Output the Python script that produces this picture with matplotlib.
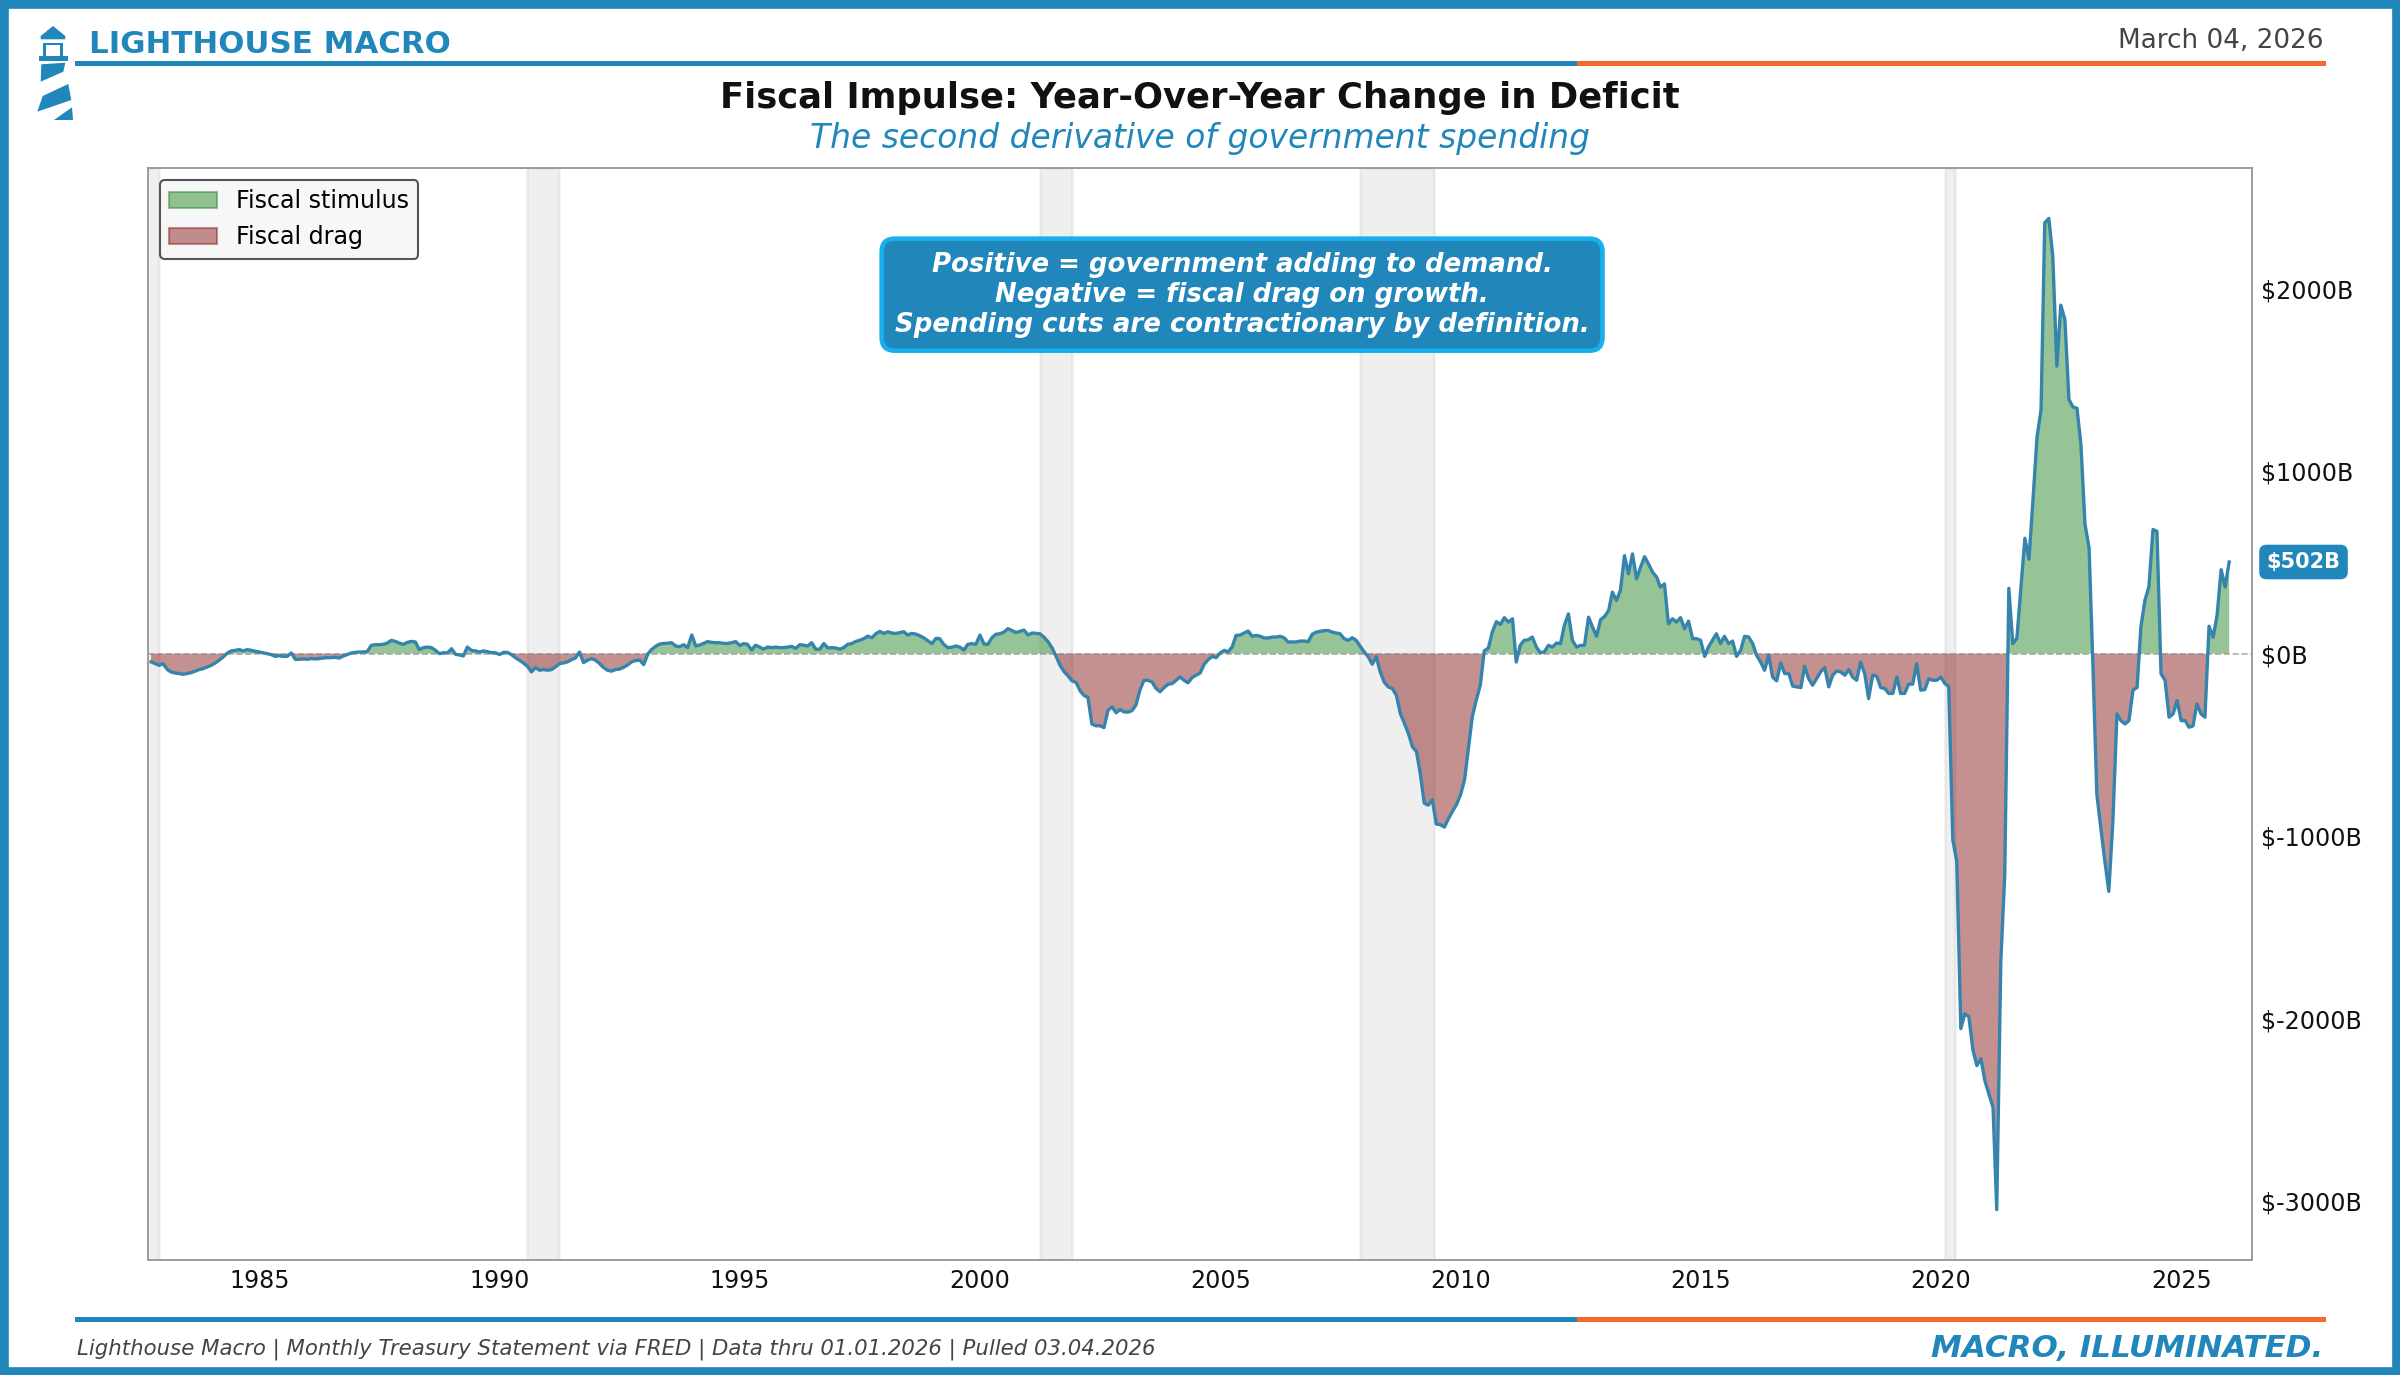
import pandas as pd
import matplotlib
matplotlib.use("Agg")
import matplotlib.pyplot as plt
import matplotlib.dates as mdates
from matplotlib.patches import Polygon, Rectangle, Patch
from matplotlib.lines import Line2D
from matplotlib.ticker import FuncFormatter

BLUE = "#2186BA"
ORANGE = "#F26B2A"
GREEN = "#2e8b2e"
RED = "#8b2222"
LINE = "#3584ad"

# yoy change in 12m deficit, $B, monthly from Oct 1982
vals_1982_1992 = [
    -45, -55, -64, -55, -87, -100, -106, -109, -113, -109, -104, -96,
    -87, -82, -73, -64, -51, -36, -18, 2, 15, 18, 22, 15,
    22, 18, 13, 9, 4, 0, -5, -15, -11, -15, -15, 4,
    -31, -31, -29, -31, -27, -29, -27, -24, -22, -22, -20, -24,
    -13, -5, 4, 7, 9, 9, 11, 45, 49, 49, 51, 58,
    73, 67, 58, 51, 62, 67, 64, 22, 33, 36, 33, 18,
    0, 5, 4, 27, -4, -7, -13, 36, 18, 15, 9, 15,
    11, 5, 5, -5, 7, 7, -5, -22, -36, -51, -69, -100,
    -76, -91, -87, -91, -87, -73, -55, -51, -45, -33, -24, 9,
    -49, -36, -27, -36, -55, -76, -91, -96, -87, -85, -75, -62,
]
vals_1992_2002 = [
    -45, -38, -35, -60, -2, 22, 40, 52, 56, 57, 60, 42,
    38, 49, 33, 102, 42, 47, 56, 66, 62, 60, 60, 56,
    56, 60, 66, 45, 55, 51, 20, 46, 36, 25, 36, 33,
    36, 33, 33, 36, 40, 29, 49, 46, 42, 60, 24, 25,
    55, 31, 33, 31, 24, 33, 51, 55, 67, 73, 82, 96,
    87, 109, 122, 111, 120, 113, 111, 115, 120, 102, 111, 107,
    98, 86, 71, 55, 84, 82, 51, 33, 35, 42, 36, 20,
    51, 55, 51, 102, 53, 51, 87, 106, 109, 118, 137, 126,
    116, 122, 129, 102, 113, 111, 109, 91, 66, 33, -13, -64,
    -98, -122, -149, -158, -204, -228, -240, -385, -395, -395, -405, -310,
]
vals_2002_2012 = [
    -291, -324, -306, -319, -320, -313, -282, -200, -146, -146, -155, -191,
    -209, -186, -168, -164, -146, -127, -146, -160, -131, -118, -106, -58,
    -33, -15, -22, 4, 18, 9, 36, 100, 102, 113, 124, 95,
    100, 95, 86, 86, 91, 91, 95, 87, 64, 64, 64, 69,
    69, 66, 106, 118, 122, 126, 127, 118, 113, 109, 82, 73,
    87, 73, 40, 9, -18, -58, -18, -100, -157, -182, -191, -228,
    -328, -382, -437, -510, -537, -655, -819, -830, -800, -933, -937, -950,
    -905, -864, -828, -774, -692, -528, -346, -255, -173, 15, 30, 120,
    175, 160, 197, 173, 191, -46, 46, 73, 76, 91, 36, 5,
    10, 46, 36, 58, 55, 155, 218, 73, 36, 45, 46, 200,
]
vals_2012_2022 = [
    146, 95, 186, 204, 237, 337, 291, 346, 537, 437, 546, 410,
    473, 531, 491, 446, 419, 364, 382, 164, 191, 173, 197, 137,
    178, 82, 82, 73, -15, 36, 73, 109, 55, 95, 55, 69,
    -15, 18, 95, 91, 55, -9, -46, -91, -9, -128, -149, -51,
    -109, -109, -178, -182, -186, -69, -137, -173, -137, -100, -76, -182,
    -118, -95, -100, -118, -87, -128, -146, -46, -109, -246, -118, -124,
    -186, -191, -218, -218, -128, -218, -218, -167, -167, -55, -200, -197,
    -137, -146, -146, -128, -164, -180, -1020, -1137, -2054, -1973, -1988, -2171,
    -2256, -2219, -2340, -2414, -2487, -3045, -1687, -1210, 358, 55, 84, 360,
    632, 517, 836, 1183, 1338, 2360, 2384, 2178, 1575, 1909, 1831, 1393,
]
vals_2022_2026 = [
    1351, 1344, 1146, 708, 580, -37, -770, -954, -1137, -1302, -917, -330,
    -367, -385, -367, -200, -185, 147, 293, 367, 680, 670, -110, -147,
    -348, -330, -257, -367, -367, -403, -396, -275, -330, -348, 150, 90,
    210, 460, 365, 502,
]

recessions = [("1981-08-01", "1982-12-01"), ("1990-08-01", "1991-04-01"),
              ("2001-04-01", "2001-12-01"), ("2007-12-01", "2009-06-15"),
              ("2020-02-01", "2020-04-15")]

yticks = [-3000, -2000, -1000, 0, 1000, 2000]
xtick_years = [1985, 1990, 1995, 2000, 2005, 2010, 2015, 2020, 2025]

impulse = vals_1982_1992 + vals_1992_2002 + vals_2002_2012 + vals_2012_2022 + vals_2022_2026
dates = pd.date_range("1982-10-01", periods=len(impulse), freq="MS")
s = pd.Series(impulse, index=dates, dtype=float)

fig = plt.figure(figsize=(16, 9.1667), dpi=150)
ax = fig.add_axes([0.0617, 0.0838, 0.8766, 0.794])

for a, b in recessions:
    ax.axvspan(pd.Timestamp(a), pd.Timestamp(b), color="#9e9e9e", alpha=0.16, lw=1.2, zorder=0)

ax.fill_between(s.index, s.values, 0, where=s.values >= 0, interpolate=True,
                color=GREEN, alpha=0.5, lw=0, zorder=2)
ax.fill_between(s.index, s.values, 0, where=s.values < 0, interpolate=True,
                color=RED, alpha=0.5, lw=0, zorder=2)
ax.plot(s.index, s.values, color=LINE, lw=1.6, zorder=3)
ax.axhline(0, color="#888888", ls="--", lw=0.8, alpha=0.7, zorder=2.5)

ax.set_xlim(pd.Timestamp("1982-09-08"), pd.Timestamp("2026-06-23"))
ax.set_ylim(-3320, 2660)
ax.set_xticks([pd.Timestamp(f"{y}-01-01") for y in xtick_years])
ax.xaxis.set_major_formatter(mdates.DateFormatter("%Y"))
ax.set_yticks(yticks)
ax.yaxis.set_major_formatter(FuncFormatter(lambda v, p: f"${v:.0f}B"))
ax.yaxis.tick_right()
ax.tick_params(axis="both", length=0, labelsize=11.4, colors="#111111")
ax.tick_params(axis="y", pad=4.5)
ax.tick_params(axis="x", pad=4.5)
for sp in ax.spines.values():
    sp.set_color("#999999")
    sp.set_linewidth(0.9)

handles = [Patch(facecolor=GREEN, edgecolor=GREEN, alpha=0.5, label="Fiscal stimulus"),
           Patch(facecolor=RED, edgecolor=RED, alpha=0.5, label="Fiscal drag")]
leg = ax.legend(handles=handles, loc="upper left", fontsize=11.4, frameon=True,
                facecolor="#f7f7f7", edgecolor="#555555", framealpha=1, borderpad=0.4)
leg.get_frame().set_linewidth(1.0)

ax.text(0.52, 0.884,
        "Positive = government adding to demand.\nNegative = fiscal drag on growth.\n"
        "Spending cuts are contractionary by definition.",
        transform=ax.transAxes, ha="center", va="center", fontsize=12.5,
        fontweight="bold", fontstyle="italic", color="white", linespacing=1.2, zorder=6,
        bbox=dict(boxstyle="round,pad=0.5", facecolor=BLUE, edgecolor="#19AEEC", lw=2.2))

last = impulse[-1]
ax.annotate(f"${last:.0f}B", xy=(1, last), xycoords=("axes fraction", "data"),
            xytext=(7, 0), textcoords="offset points", ha="left", va="center",
            fontsize=10, fontweight="bold", color="white", annotation_clip=False,
            bbox=dict(boxstyle="round,pad=0.3", facecolor=BLUE, edgecolor=BLUE))

# header / footer
fig.text(0.5, 0.929, "Fiscal Impulse: Year-Over-Year Change in Deficit", ha="center",
         va="center", fontsize=17, fontweight="bold", color="#111111")
fig.text(0.5, 0.899, "The second derivative of government spending", ha="center",
         va="center", fontsize=15.8, fontstyle="italic", color=BLUE)
fig.text(0.037, 0.968, "LIGHTHOUSE MACRO", ha="left", va="center", fontsize=14.8,
         fontweight="bold", color=BLUE)
fig.text(0.968, 0.970, "March 04, 2026", ha="right", va="center", fontsize=12.6, color="#444444")
fig.add_artist(Line2D([0.032, 0.658], [0.954, 0.954], color=BLUE, lw=2.4, transform=fig.transFigure))
fig.add_artist(Line2D([0.658, 0.968], [0.954, 0.954], color=ORANGE, lw=2.4, transform=fig.transFigure))
fig.add_artist(Line2D([0.032, 0.658], [0.041, 0.041], color=BLUE, lw=2.4, transform=fig.transFigure))
fig.add_artist(Line2D([0.658, 0.968], [0.041, 0.041], color=ORANGE, lw=2.4, transform=fig.transFigure))
fig.text(0.032, 0.019, "Lighthouse Macro | Monthly Treasury Statement via FRED | Data thru 01.01.2026 | Pulled 03.04.2026",
         ha="left", va="center", fontsize=10.2, fontstyle="italic", color="#444444")
fig.text(0.968, 0.019, "MACRO, ILLUMINATED.", ha="right", va="center", fontsize=14.9,
         fontweight="bold", fontstyle="italic", color=BLUE)

# lighthouse logo, pixel coords
W, H = 2400, 1375
def px(pts):
    return [(x / W, 1 - y / H) for x, y in pts]

logo = [
    [(40.7, 39.3), (65.3, 39.3), (65.3, 36), (53, 26), (40.7, 36)],
    [(43, 42.7), (63, 42.7), (63, 45), (43, 45)],
    [(43, 42.7), (46.3, 42.7), (46.3, 56), (43, 56)],
    [(59.7, 42.7), (63, 42.7), (63, 56), (59.7, 56)],
    [(38.7, 56), (68, 56), (68, 60.7), (38.7, 60.7)],
    [(41.3, 64.3), (65.3, 62.7), (63.3, 71.7), (40.7, 81.7)],
    [(42.7, 96), (68.3, 84), (71.3, 100), (37.3, 111.7)],
    [(72, 107.3), (73, 120), (54, 120)],
]
for pts in logo:
    fig.add_artist(Polygon(px(pts), closed=True, facecolor=BLUE, edgecolor="none",
                           transform=fig.transFigure))

fig.add_artist(Rectangle((0, 0), 1, 1, transform=fig.transFigure, fill=False,
                         edgecolor=BLUE, lw=8))

fig.savefig("out.png", dpi=150)
